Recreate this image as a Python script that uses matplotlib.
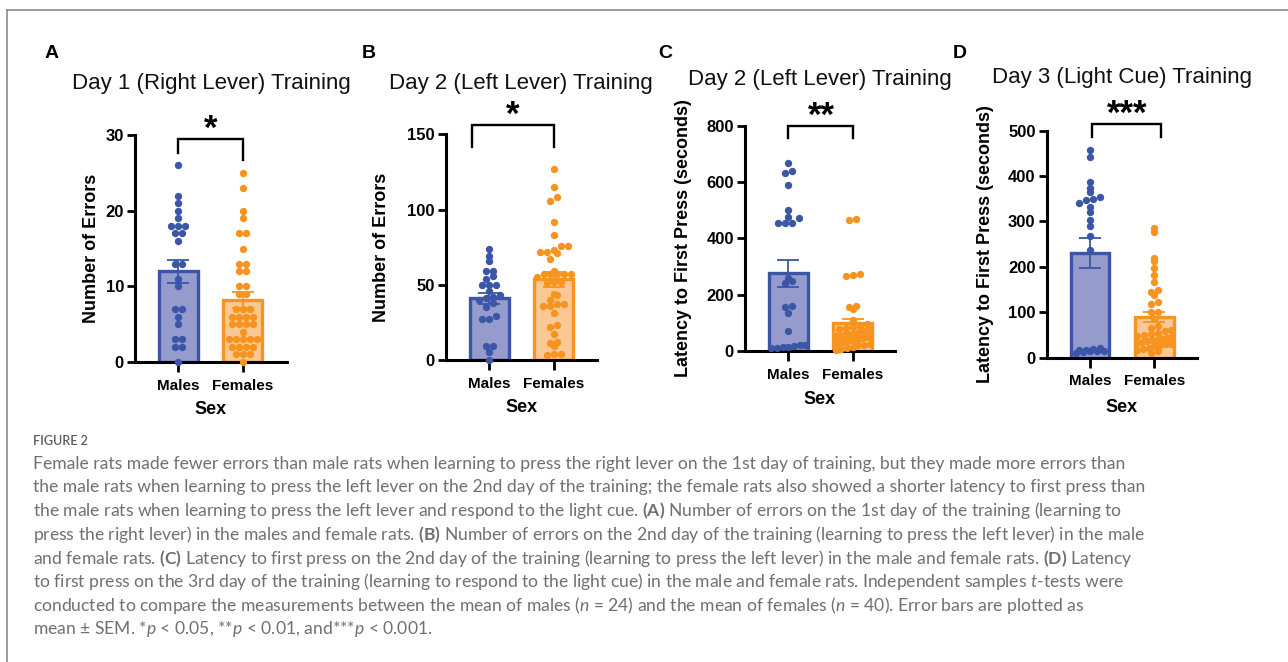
import numpy as np
import matplotlib
matplotlib.use("Agg")
import matplotlib.pyplot as plt
from matplotlib.lines import Line2D

plt.rcParams['font.family'] = ['Liberation Sans', 'DejaVu Sans']
plt.rcParams['mathtext.fontset'] = 'custom'
plt.rcParams['mathtext.rm'] = 'Lato:regular'
plt.rcParams['mathtext.bf'] = 'Lato:bold'
plt.rcParams['mathtext.it'] = 'Lato:italic:regular'

W, H = 1288, 662

groups = ['Males', 'Females']
fill_colors = ['#959bcd', '#fac894']
edge_colors = ['#3b56a6', '#f7941f']

# ----------------- data -----------------
# A - Day 1 (right lever), number of errors
a_males = [26, 22, 21, 20, 19, 18, 18, 18, 17, 17, 16, 13, 13, 11, 10,
           7, 7, 6, 5, 3, 3, 2, 2, 0]
a_females = [25, 23, 20, 19, 17, 17, 15, 13, 13, 12, 12, 10, 10, 9, 9,
             7, 7, 7, 6, 6, 6, 6, 5, 5, 5, 5, 4, 3, 3, 3, 3, 3,
             2, 2, 2, 2, 1, 1, 1, 0]
a_mean = [12.0, 8.2]
a_sem = [1.5, 1.1]

# B - Day 2 (left lever), number of errors
b_males = [74, 69, 66, 59, 59, 56, 54, 50, 50, 50, 46, 43, 42, 41, 40, 38,
           35, 29, 27, 27, 9, 9, 5, 0]
b_females = [127, 115, 108, 106, 92, 83, 76, 76, 73, 72, 72, 71, 67, 59,
             57, 57, 57, 57, 57, 55, 52, 52, 51, 44, 43, 40, 37, 37, 36, 36,
             31, 23, 22, 17, 12, 11, 9, 4, 4, 3]
b_mean = [41.0, 53.7]
b_sem = [3.8, 5.0]

# C - Day 2 (left lever), latency to first press
c_males = [666, 640, 633, 589, 500, 477, 471, 455, 455, 455, 260, 250, 243,
           160, 155, 135, 72, 22, 20, 18, 15, 15, 12, 10]
c_females = [468, 465, 275, 270, 266, 160, 158, 150, 110, 95, 90, 85, 80, 78,
             75, 72, 70, 65, 62, 60, 58, 55, 52, 50, 48, 45, 42, 40, 38, 35,
             32, 30, 28, 25, 22, 20, 15, 12, 8, 5]
c_mean = [276, 98]
c_sem = [48, 17]

# D - Day 3 (light cue), latency to first press
d_males = [457, 443, 388, 373, 364, 355, 349, 347, 340, 333, 320, 303, 289,
           267, 237, 22, 20, 18, 17, 15, 15, 14, 12, 10]
d_females = [286, 277, 220, 213, 197, 182, 167, 149, 145, 138, 123, 118, 101,
             101, 85, 70, 65, 62, 58, 55, 52, 50, 48, 45, 44, 42, 40, 38, 36,
             35, 33, 30, 30, 28, 25, 22, 20, 18, 15, 10]
d_mean = [230, 89]
d_sem = [33, 11]

panels = [
    dict(letter='A', title='Day 1 (Right Lever) Training', ylabel='Number of Errors',
         pts=[a_males, a_females], mean=a_mean, sem=a_sem,
         ylim=30, yticks=[0, 10, 20, 30],
         box=(135, 287, 135, 362), letter_xy=(52, 53), title_xy=(211, 83),
         ylab_x=92, sex_y=410,
         stars='*', br_y=29.5, br_drop=(27.6, 26.7), br_x=(0, 1), star_x=0.5),
    dict(letter='B', title='Day 2 (Left Lever) Training', ylabel='Number of Errors',
         pts=[b_males, b_females], mean=b_mean, sem=b_sem,
         ylim=150, yticks=[0, 50, 100, 150],
         box=(446, 597, 134.3, 360), letter_xy=(369, 53), title_xy=(521, 83),
         ylab_x=382, sex_y=408,
         stars='*', br_y=156, br_drop=(141.5, 141.5), br_x=(-0.26, 1), star_x=0.36),
    dict(letter='C', title='Day 2 (Left Lever) Training', ylabel='Latency to First Press (seconds)',
         pts=[c_males, c_females], mean=c_mean, sem=c_sem,
         ylim=800, yticks=[0, 200, 400, 600, 800],
         box=(745, 895, 125.7, 351), letter_xy=(665, 53), title_xy=(820, 79),
         ylab_x=683, sex_y=400,
         stars='**', br_y=800, br_drop=(756, 756), br_x=(0, 1), star_x=0.52),
    dict(letter='D', title='Day 3 (Light Cue) Training', ylabel='Latency to First Press (seconds)',
         pts=[d_males, d_females], mean=d_mean, sem=d_sem,
         ylim=500, yticks=[0, 100, 200, 300, 400, 500],
         box=(1046.7, 1196.7, 130.7, 357.7), letter_xy=(960, 53), title_xy=(1122, 78),
         ylab_x=985, sex_y=407,
         stars='***', br_y=515, br_drop=(486, 486), br_x=(0.04, 1.1), star_x=0.58),
]

caption_lines = [
    "Female rats made fewer errors than male rats when learning to press the right lever on the 1st day of training, but they made more errors than",
    "the male rats when learning to press the left lever on the 2nd day of the training; the female rats also showed a shorter latency to first press than",
    r"the male rats when learning to press the left lever and respond to the light cue. $\mathbf{(A)}$ Number of errors on the 1st day of the training (learning to",
    r"press the right lever) in the males and female rats. $\mathbf{(B)}$ Number of errors on the 2nd day of the training (learning to press the left lever) in the male",
    r"and female rats. $\mathbf{(C)}$ Latency to first press on the 2nd day of the training (learning to press the left lever) in the male and female rats. $\mathbf{(D)}$ Latency",
    r"to first press on the 3rd day of the training (learning to respond to the light cue) in the male and female rats. Independent samples $\mathit{t}$-tests were",
    r"conducted to compare the measurements between the mean of males ($\mathit{n}$ = 24) and the mean of females ($\mathit{n}$ = 40). Error bars are plotted as",
    r"mean ± SEM. *$\mathit{p}$ < 0.05, **$\mathit{p}$ < 0.01, and***$\mathit{p}$ < 0.001.",
]


def swarm_offsets(ax, values, dot_px, max_half):
    """Offsets (data units) arranging dots in symmetric rows, GraphPad-like."""
    values = np.asarray(values, dtype=float)
    y_px = ax.transData.transform(np.column_stack([np.zeros(len(values)), values]))[:, 1]
    x_scale = ax.transData.transform([(1, 0)])[0, 0] - ax.transData.transform([(0, 0)])[0, 0]
    rows = np.round(y_px / dot_px).astype(int)
    offsets = np.zeros(len(values))
    for r in np.unique(rows):
        idx = np.where(rows == r)[0]
        n = len(idx)
        if n == 1:
            continue
        spacing = min(dot_px, 2 * max_half / (n - 1))
        for j, i in enumerate(idx[np.argsort(values[idx])]):
            offsets[i] = (j - (n - 1) / 2) * spacing / x_scale
    return offsets


fig = plt.figure(figsize=(W / 100, H / 100), dpi=100)

for p in panels:
    x0, x1, ytop, ybot = p['box']
    ax = fig.add_axes([x0 / W, (H - ybot) / H, (x1 - x0) / W, (ybot - ytop) / H])
    # males at 0, females at 1, ~64.5 px apart
    spacing = 64.5
    left = -0.67
    ax.set_xlim(left, left + (x1 - x0) / spacing)
    ax.set_ylim(0, p['ylim'])

    xs = np.arange(len(groups))
    ax.bar(xs, p['mean'], width=0.6, color=fill_colors, edgecolor=edge_colors,
           linewidth=2.4, zorder=2)
    for i in range(2):
        ax.errorbar(xs[i], p['mean'][i], yerr=p['sem'][i], fmt='none',
                    ecolor=edge_colors[i], elinewidth=1.3, capsize=8, capthick=1.3,
                    zorder=3)
        offs = swarm_offsets(ax, p['pts'][i], 7.0, 17)
        ax.scatter(xs[i] + offs, p['pts'][i], s=28, color=edge_colors[i],
                   linewidths=0, zorder=4, clip_on=False)

    for side in ['top', 'right']:
        ax.spines[side].set_visible(False)
    for side in ['left', 'bottom']:
        ax.spines[side].set_linewidth(2.2)
    ax.set_yticks(p['yticks'])
    ax.set_xticks(xs)
    ax.set_xticklabels(groups)
    ax.tick_params(axis='y', direction='out', length=6, width=2.0, labelsize=12, pad=2)
    ax.tick_params(axis='x', direction='out', length=7, width=2.0, labelsize=11, pad=5)
    for lab in ax.get_xticklabels() + ax.get_yticklabels():
        lab.set_fontweight('bold')

    # y label and x label
    yl_x = (p['ylab_x'] - x0) / (x1 - x0)
    ax.text(yl_x, 0.5, p['ylabel'], transform=ax.transAxes, rotation=90,
            ha='center', va='center', fontsize=13, fontweight='bold')
    sx = (ybot - p['sex_y']) / (ybot - ytop)
    ax.text(0.5, sx, 'Sex', transform=ax.transAxes, ha='center', va='center',
            fontsize=13, fontweight='bold')

    # significance bracket
    bx0, bx1 = p['br_x']
    ax.plot([bx0, bx0, bx1, bx1], [p['br_drop'][0], p['br_y'], p['br_y'], p['br_drop'][1]],
            color='black', linewidth=1.7, clip_on=False, solid_joinstyle='miter')
    ax.text(p['star_x'], p['br_y'], p['stars'], ha='center', va='baseline',
            fontsize=25, fontweight='bold', clip_on=False)

    fig.text(p['letter_xy'][0] / W, 1 - p['letter_xy'][1] / H, p['letter'],
             ha='center', va='center', fontsize=14, fontweight='bold')
    fig.text(p['title_xy'][0] / W, 1 - p['title_xy'][1] / H, p['title'],
             ha='center', va='center', fontsize=16, color='#111111')

# caption
fig.text(33 / W, 1 - 441 / H, 'FIGURE 2', ha='left', va='center', fontsize=9,
         color='#5a5a5a', family=['Lato', 'DejaVu Sans'], fontweight='semibold')
for k, line in enumerate(caption_lines):
    fig.text(33 / W, 1 - (463.5 + k * 23.7) / H, line, ha='left', va='center',
             fontsize=12.6, color='#707070', family=['Lato', 'DejaVu Sans'])

# frame lines
fig.add_artist(Line2D([7 / W, 1], [1 - 10 / H, 1 - 10 / H], transform=fig.transFigure,
                      color='#8a8a8a', linewidth=1.2))
fig.add_artist(Line2D([7 / W, 7 / W], [0, 1 - 10 / H], transform=fig.transFigure,
                      color='#8a8a8a', linewidth=1.2))

fig.savefig('out.png', dpi=100, facecolor='white')
